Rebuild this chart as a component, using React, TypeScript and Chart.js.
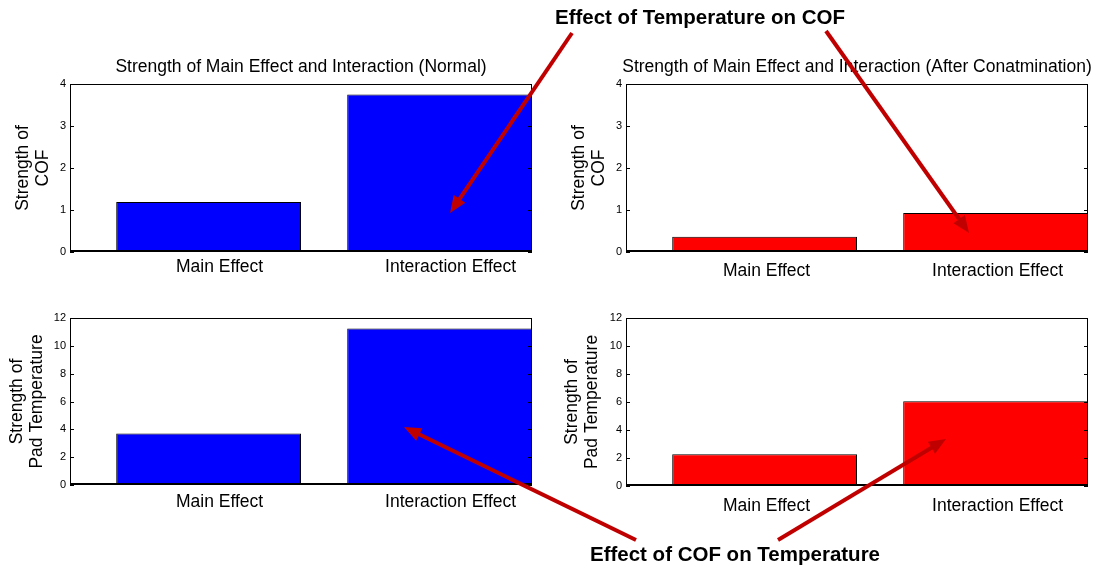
import { useEffect, useRef } from 'react';
import { Chart, registerables } from 'chart.js';

Chart.register(...registerables);

const FONT = '"Liberation Sans", Arial, Helvetica, sans-serif';

// Effect categories along every x axis
const categories = ['Main Effect', 'Interaction Effect'];

// Strength values for each panel
const cofNormal = [1.19, 3.75];
const cofAfter = [0.365, 0.93];
const padTempNormal = [3.7, 11.24];
const padTempAfter = [2.27, 6.05];

// Y tick values
const cofTicks = [0, 1, 2, 3, 4];
const padTempTicks = [0, 2, 4, 6, 8, 10, 12];

// Text
const titleNormal = 'Strength of Main Effect and Interaction (Normal)';
const titleAfter = 'Strength of Main Effect and Interaction (After Conatmination)';
const cofAxisTitle = ['Strength of', 'COF'];
const padTempAxisTitle = ['Strength of', 'Pad Temperature'];
const noteTop = 'Effect of Temperature on COF';
const noteBottom = 'Effect of COF on Temperature';

type Rect = { left: number; top: number; width: number; height: number };
type Area = { left: number; top: number; right: number; bottom: number };

interface PanelSpec {
  id: string;
  canvas: Rect;
  area: Area;
  values: number[];
  ticks: number[];
  color: string;
  title?: string;
  axisTitle: string[];
  axisTitlePad: number;
  labelOffset: number;
  labelPad: number;
}

const panels: PanelSpec[] = [
  {
    id: 'cof-normal',
    canvas: { left: 0, top: 40, width: 548, height: 250 },
    area: { left: 70, top: 84, right: 532, bottom: 252 },
    values: cofNormal,
    ticks: cofTicks,
    color: '#0000FF',
    title: titleNormal,
    axisTitle: cofAxisTitle,
    axisTitlePad: 13,
    labelOffset: 11,
    labelPad: 4.5,
  },
  {
    id: 'cof-after',
    canvas: { left: 548, top: 40, width: 548, height: 250 },
    area: { left: 626, top: 84, right: 1088, bottom: 252 },
    values: cofAfter,
    ticks: cofTicks,
    color: '#FF0000',
    title: titleAfter,
    axisTitle: cofAxisTitle,
    axisTitlePad: 21,
    labelOffset: 2,
    labelPad: 9,
  },
  {
    id: 'temp-normal',
    canvas: { left: 0, top: 290, width: 548, height: 270 },
    area: { left: 70, top: 318, right: 532, bottom: 485 },
    values: padTempNormal,
    ticks: padTempTicks,
    color: '#0000FF',
    axisTitle: padTempAxisTitle,
    axisTitlePad: 7,
    labelOffset: 11,
    labelPad: 6.5,
  },
  {
    id: 'temp-after',
    canvas: { left: 548, top: 290, width: 548, height: 270 },
    area: { left: 626, top: 318, right: 1088, bottom: 486 },
    values: padTempAfter,
    ticks: padTempTicks,
    color: '#FF0000',
    axisTitle: padTempAxisTitle,
    axisTitlePad: 14,
    labelOffset: 2,
    labelPad: 10,
  },
];

// Frame, inward ticks, baseline and panel title in the MATLAB look
function framePlugin(title?: string) {
  return {
    id: 'panelFrame',
    afterDatasetsDraw(chart: any) {
      const { ctx, chartArea: a, scales } = chart;
      const y = scales.y;
      ctx.save();
      ctx.strokeStyle = '#000';
      ctx.lineWidth = 1;
      ctx.strokeRect(a.left + 0.5, a.top + 0.5, a.right - a.left - 1, a.bottom - a.top - 1);
      ctx.beginPath();
      for (const t of y.ticks) {
        const py = Math.round(y.getPixelForValue(t.value)) + 0.5;
        ctx.moveTo(a.left, py);
        ctx.lineTo(a.left + 4, py);
        ctx.moveTo(a.right - 4, py);
        ctx.lineTo(a.right, py);
      }
      ctx.stroke();
      ctx.lineWidth = 2;
      ctx.beginPath();
      ctx.moveTo(a.left, a.bottom - 1);
      ctx.lineTo(a.right, a.bottom - 1);
      ctx.stroke();
      if (title) {
        ctx.fillStyle = '#000';
        ctx.font = `17.5px ${FONT}`;
        ctx.textAlign = 'center';
        ctx.textBaseline = 'middle';
        ctx.fillText(title, (a.left + a.right) / 2, a.top - 17);
      }
      ctx.restore();
    },
  };
}

function Panel({ spec }: { spec: PanelSpec }) {
  const ref = useRef<HTMLCanvasElement | null>(null);

  useEffect(() => {
    if (!ref.current) return;
    const c = spec.canvas;
    const padTop = spec.area.top - c.top;
    const padRight = c.left + c.width - spec.area.right;
    const yWidth = spec.area.left - c.left;
    const xHeight = c.top + c.height - spec.area.bottom;

    const chart = new Chart(ref.current, {
      type: 'bar',
      data: {
        datasets: [
          {
            data: spec.values.map((v, i) => ({ x: i + 1, y: v })),
            backgroundColor: spec.color,
            borderColor: '#000',
            borderWidth: 1,
            barPercentage: 0.8,
            categoryPercentage: 1,
          },
        ],
      },
      options: {
        animation: false,
        responsive: false,
        events: [],
        layout: { padding: { left: 0, top: padTop, right: padRight, bottom: 0 } },
        plugins: {
          legend: { display: false },
          tooltip: { enabled: false },
          title: { display: false },
        },
        scales: {
          x: {
            type: 'linear',
            min: 0.4,
            max: 2.4,
            offset: false,
            grid: { display: false, drawTicks: false },
            border: { display: false },
            afterBuildTicks: (s: any) => {
              s.ticks = categories.map((_, i) => ({ value: i + 1 }));
            },
            afterFit: (s: any) => {
              s.height = xHeight;
            },
            ticks: {
              callback: (_v: any, i: number) => categories[i],
              font: { family: FONT, size: 17.5 },
              color: '#000',
              padding: spec.labelPad,
              labelOffset: spec.labelOffset,
              maxRotation: 0,
              autoSkip: false,
            },
          },
          y: {
            type: 'linear',
            min: 0,
            max: spec.ticks[spec.ticks.length - 1],
            grid: { display: false, drawTicks: false },
            border: { display: false },
            afterBuildTicks: (s: any) => {
              s.ticks = spec.ticks.map((v) => ({ value: v }));
            },
            afterFit: (s: any) => {
              s.width = yWidth;
            },
            ticks: {
              font: { family: FONT, size: 11 },
              color: '#000',
              padding: 4,
            },
            title: {
              display: true,
              text: spec.axisTitle,
              font: { family: FONT, size: 17.5, lineHeight: 1.15 },
              color: '#000',
              padding: { top: spec.axisTitlePad, bottom: 0 },
            },
          },
        },
      } as any,
      plugins: [framePlugin(spec.title)],
    });
    return () => chart.destroy();
  }, [spec]);

  const c = spec.canvas;
  return (
    <canvas
      ref={ref}
      width={c.width}
      height={c.height}
      style={{ position: 'absolute', left: c.left, top: c.top, width: c.width, height: c.height }}
    />
  );
}

const ARROW = '#C00000';

function Arrow({ x1, y1, x2, y2 }: { x1: number; y1: number; x2: number; y2: number }) {
  const dx = x2 - x1;
  const dy = y2 - y1;
  const len = Math.hypot(dx, dy);
  const ux = dx / len;
  const uy = dy / len;
  const head = 17;
  const half = 7;
  const bx = x2 - ux * head;
  const by = y2 - uy * head;
  const px = -uy;
  const py = ux;
  const pts = `${x2},${y2} ${bx + px * half},${by + py * half} ${bx - px * half},${by - py * half}`;
  return (
    <g>
      <line x1={x1} y1={y1} x2={bx + ux * 2} y2={by + uy * 2} stroke={ARROW} strokeWidth={4} />
      <polygon points={pts} fill={ARROW} />
    </g>
  );
}

export default function App() {
  return (
    <div style={{ position: 'absolute', left: 0, top: 0, width: 1096, height: 569, background: '#fff', overflow: 'hidden' }}>
      {panels.map((p) => (
        <Panel key={p.id} spec={p} />
      ))}
      <svg
        width={1096}
        height={569}
        style={{ position: 'absolute', left: 0, top: 0, pointerEvents: 'none' }}
      >
        <text x={700} y={24} textAnchor="middle" fontFamily={FONT} fontWeight="bold" fontSize={20.5} fill="#000">
          {noteTop}
        </text>
        <text x={735} y={561} textAnchor="middle" fontFamily={FONT} fontWeight="bold" fontSize={20.5} fill="#000">
          {noteBottom}
        </text>
        <Arrow x1={572} y1={33} x2={450} y2={213} />
        <Arrow x1={826} y1={31} x2={969} y2={233} />
        <Arrow x1={636} y1={540} x2={404} y2={427} />
        <Arrow x1={778} y1={540} x2={946} y2={439} />
      </svg>
    </div>
  );
}
